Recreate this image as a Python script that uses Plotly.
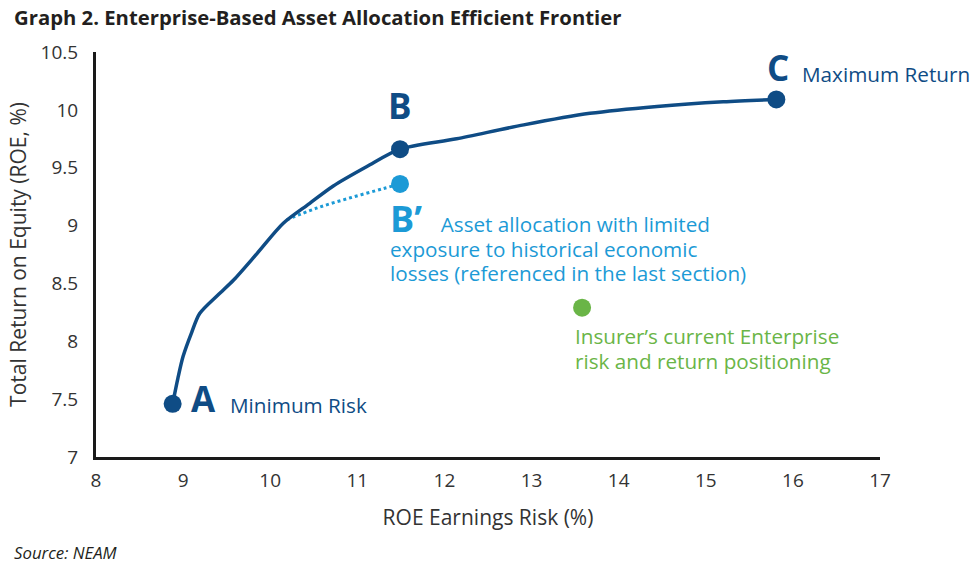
import plotly.graph_objects as go

# efficient frontier (ROE earnings risk %, total ROE %)
frontier_x = [8.88, 8.94, 9.0, 9.1, 9.19, 9.4, 9.58, 9.85, 10.15, 10.45, 10.72,
              11.11, 11.49, 12.14, 12.91, 13.67, 14.44, 15.20, 15.81]
frontier_y = [7.46, 7.68, 7.87, 8.08, 8.24, 8.40, 8.53, 8.76, 9.02, 9.19, 9.34,
              9.51, 9.66, 9.75, 9.87, 9.97, 10.03, 10.07, 10.09]

# limited-exposure branch ending at B'
branch_x = [10.19, 10.53, 10.92, 11.30, 11.49]
branch_y = [9.05, 9.15, 9.24, 9.32, 9.36]

point_names = ["A", "B", "C"]
point_x = [8.88, 11.49, 15.81]
point_y = [7.46, 9.66, 10.09]

bprime_x = [11.49]
bprime_y = [9.36]

current_x = [13.58]
current_y = [8.29]

x_ticks = [8, 9, 10, 11, 12, 13, 14, 15, 16, 17]
y_ticks = [7, 7.5, 8, 8.5, 9, 9.5, 10, 10.5]

bprime_lines = ["Asset allocation with limited",
                "exposure to historical economic",
                "losses (referenced in the last section)"]
current_lines = ["Insurer’s current Enterprise",
                 "risk and return positioning"]

DARK = "#0f4c85"
LIGHT = "#1c9ad6"
GREEN = "#6ab547"
INK = "#231f20"
FONT = "Open Sans"
TXT = 20.7


def sized(s, px):
    return "<span style='font-size:%spx'>%s</span>" % (px, s)


fig = go.Figure()
fig.add_trace(go.Scatter(x=branch_x, y=branch_y, mode="lines",
                         line=dict(color=LIGHT, width=3, dash="dot", shape="spline")))
fig.add_trace(go.Scatter(x=frontier_x, y=frontier_y, mode="lines",
                         line=dict(color=DARK, width=3.5, shape="spline", smoothing=0.8)))
fig.add_trace(go.Scatter(x=point_x, y=point_y, mode="markers",
                         marker=dict(color=DARK, size=18)))
fig.add_trace(go.Scatter(x=bprime_x, y=bprime_y, mode="markers",
                         marker=dict(color=LIGHT, size=18)))
fig.add_trace(go.Scatter(x=current_x, y=current_y, mode="markers",
                         marker=dict(color=GREEN, size=18)))

big = dict(family=FONT, size=35, color=DARK)
small = dict(family=FONT, size=TXT, color=DARK)

notes = [
    dict(x=point_x[0], y=point_y[0], text="<b>A</b>", xanchor="center", xshift=31, yshift=5, font=big),
    dict(x=point_x[0], y=point_y[0], text="Minimum Risk", xanchor="left", xshift=55, yshift=-1, font=small),
    dict(x=point_x[1], y=point_y[1], text="<b>B</b>", xanchor="center", yshift=44, font=big),
    dict(x=point_x[2], y=point_y[2], text="<b>C</b>", xanchor="center", xshift=2, yshift=32, font=big),
    dict(x=point_x[2], y=point_y[2], text="Maximum Return", xanchor="left", xshift=24, yshift=25, font=small),
    # B' label and its note share one text block; base size sets the line spacing
    dict(x=bprime_x[0], y=bprime_y[0],
         text=sized("<b>B’</b>\u00a0\u00a0", 36) + sized(bprime_lines[0], TXT) + "<br>"
         + "<br>".join(sized(s, TXT) for s in bprime_lines[1:]),
         xanchor="left", yanchor="top", align="left", xshift=-12, yshift=-8,
         font=dict(family=FONT, size=18.85, color=LIGHT)),
    dict(x=current_x[0], y=current_y[0],
         text="<br>".join(sized(s, TXT) for s in current_lines),
         xanchor="left", yanchor="top", align="left", xshift=-9, yshift=-12,
         font=dict(family=FONT, size=19.2, color=GREEN)),
]
for n in notes:
    fig.add_annotation(showarrow=False, xref="x", yref="y", **n)

fig.add_annotation(text="<b>Graph 2. Enterprise-Based Asset Allocation Efficient Frontier</b>",
                   xref="paper", yref="paper", x=-0.107, y=1.0864, xanchor="left", yanchor="middle",
                   showarrow=False, font=dict(family=FONT, size=20.3, color=INK))
fig.add_annotation(text="<i>Source: NEAM</i>",
                   xref="paper", yref="paper", x=-0.107, y=-0.237, xanchor="left", yanchor="middle",
                   showarrow=False, font=dict(family=FONT, size=16.8, color=INK))

fig.update_layout(
    width=979,
    height=566,
    showlegend=False,
    plot_bgcolor="white",
    paper_bgcolor="white",
    margin=dict(l=96, r=99, t=52, b=109),
    font=dict(family=FONT, size=19, color="#333333"),
    xaxis=dict(
        range=[8, 17],
        tickvals=x_ticks,
        showgrid=False,
        zeroline=False,
        showline=True,
        linecolor="#1a1a1a",
        linewidth=3,
        ticks="",
        ticklabelstandoff=4,
        automargin=False,
        title=dict(text="ROE Earnings Risk (%)", font=dict(size=21), standoff=19),
    ),
    yaxis=dict(
        range=[7, 10.5],
        tickvals=y_ticks,
        showgrid=False,
        zeroline=False,
        showline=True,
        linecolor="#1a1a1a",
        linewidth=3,
        ticks="",
        ticklabelstandoff=11,
        automargin=False,
        title=dict(text="Total Return on Equity (ROE, %)", font=dict(size=21), standoff=9),
    ),
)

# drop the default page margin so the figure fills the window exactly
fig.write_html("out.html", config={"displayModeBar": False},
               post_script="document.body.style.margin = '0';")
